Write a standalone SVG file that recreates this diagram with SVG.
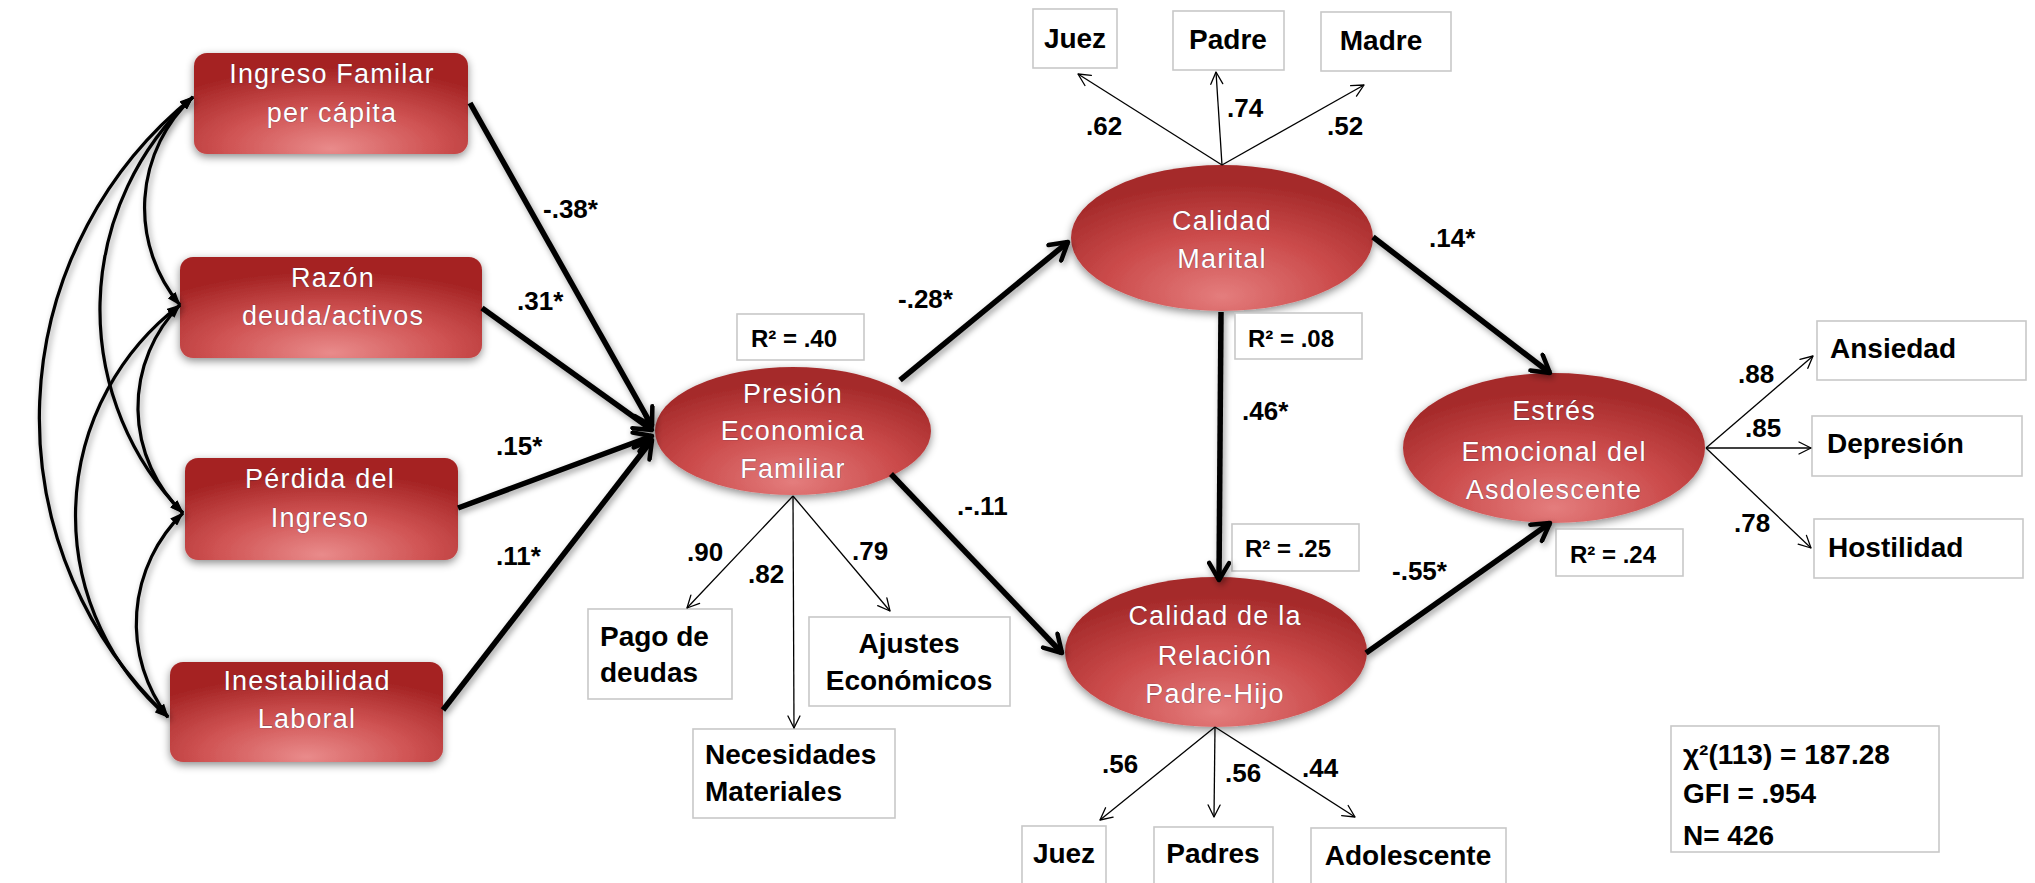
<svg xmlns="http://www.w3.org/2000/svg" width="2035" height="883" viewBox="0 0 2035 883">
<defs>
<radialGradient id="boxGrad" cx="0.5" cy="0.9" r="0.75" fx="0.5" fy="0.95">
<stop offset="0" stop-color="#e98b8b"/>
<stop offset="0.5" stop-color="#d05454"/>
<stop offset="1" stop-color="#a52424"/>
</radialGradient>
<radialGradient id="ellGrad" cx="0.5" cy="0.82" r="0.7" fx="0.5" fy="0.9">
<stop offset="0" stop-color="#e47d7d"/>
<stop offset="0.55" stop-color="#cb4b4b"/>
<stop offset="1" stop-color="#a52a2a"/>
</radialGradient>
<filter id="shadow" x="-20%" y="-20%" width="140%" height="150%">
<feDropShadow dx="0" dy="3" stdDeviation="4" flood-color="#000" flood-opacity="0.45"/>
</filter>
<filter id="lineShadow" x="-10%" y="-10%" width="120%" height="120%">
<feDropShadow dx="2" dy="3" stdDeviation="3" flood-color="#000" flood-opacity="0.4"/>
</filter>
<marker id="arrowThick" markerUnits="userSpaceOnUse" viewBox="0 0 24 24" markerWidth="24" markerHeight="24" refX="21" refY="12" orient="auto">
<path d="M4,2 L21,12 L4,22" fill="none" stroke="#000" stroke-width="4.5" stroke-linecap="round" stroke-linejoin="round"/>
</marker>
<marker id="arrowThin" markerUnits="userSpaceOnUse" viewBox="0 0 16 16" markerWidth="16" markerHeight="16" refX="14" refY="8" orient="auto">
<path d="M2,2 L14,8 L2,14" fill="none" stroke="#000" stroke-width="1.3" stroke-linecap="round" stroke-linejoin="round"/>
</marker>
<marker id="arrowFill" markerUnits="userSpaceOnUse" viewBox="0 0 14 10" markerWidth="14" markerHeight="10" refX="13" refY="5" orient="auto-start-reverse">
<path d="M0,0 L14,5 L0,10 z" fill="#000"/>
</marker>
</defs>
<style>
.node{fill:url(#boxGrad);filter:url(#shadow);}
.lat{fill:url(#ellGrad);filter:url(#shadow);}
.wt{font-family:"Liberation Sans",Arial,sans-serif;font-size:27px;fill:#fff;letter-spacing:1.2px;text-anchor:middle;stroke:#2a2a50;stroke-width:0.7px;stroke-opacity:0.55;paint-order:stroke;}
.ind{fill:#fff;stroke:#c8c8c8;stroke-width:1.6;}
.bt{font-family:"Liberation Sans",Arial,sans-serif;font-size:28px;font-weight:bold;fill:#000;}
.lb{font-family:"Liberation Sans",Arial,sans-serif;font-size:26px;font-weight:bold;fill:#000;}
.r2{font-family:"Liberation Sans",Arial,sans-serif;font-size:24px;font-weight:bold;fill:#000;}
.fit{font-family:"Liberation Sans",Arial,sans-serif;font-size:28px;font-weight:bold;fill:#000;}
.mid{text-anchor:middle;}
.thick{fill:none;stroke:#000;stroke-width:5.5;marker-end:url(#arrowThick);}
.thin{fill:none;stroke:#000;stroke-width:1.3;marker-end:url(#arrowThin);}
.curve{fill:none;stroke:#000;stroke-width:3.2;marker-start:url(#arrowFill);marker-end:url(#arrowFill);}
</style>
<rect x="0" y="0" width="2035" height="883" fill="#fff"/>

<!-- exogenous boxes -->
<g id="node-ingreso">
<rect class="node" x="194" y="53" width="274" height="101" rx="13"/>
<text class="wt" x="332" y="83">Ingreso Familar</text>
<text class="wt" x="332" y="122">per cápita</text>
</g>
<g id="node-razon">
<rect class="node" x="180" y="257" width="302" height="101" rx="13"/>
<text class="wt" x="333" y="287">Razón</text>
<text class="wt" x="333" y="325">deuda/activos</text>
</g>
<g id="node-perdida">
<rect class="node" x="185" y="458" width="273" height="102" rx="13"/>
<text class="wt" x="320" y="488">Pérdida del</text>
<text class="wt" x="320" y="527">Ingreso</text>
</g>
<g id="node-inestabilidad">
<rect class="node" x="170" y="662" width="273" height="100" rx="13"/>
<text class="wt" x="307" y="690">Inestabilidad</text>
<text class="wt" x="307" y="728">Laboral</text>
</g>

<!-- latent ellipses -->
<g id="node-presion">
<ellipse class="lat" cx="793" cy="431" rx="138" ry="64"/>
<text class="wt" x="793" y="403">Presión</text>
<text class="wt" x="793" y="440">Economica</text>
<text class="wt" x="793" y="478">Familiar</text>
</g>
<g id="node-marital">
<ellipse class="lat" cx="1222" cy="238" rx="151" ry="73"/>
<text class="wt" x="1222" y="230">Calidad</text>
<text class="wt" x="1222" y="268">Marital</text>
</g>
<g id="node-relacion">
<ellipse class="lat" cx="1216" cy="652" rx="151" ry="75"/>
<text class="wt" x="1215" y="625">Calidad de la</text>
<text class="wt" x="1215" y="665">Relación</text>
<text class="wt" x="1215" y="703">Padre-Hijo</text>
</g>
<g id="node-estres">
<ellipse class="lat" cx="1554" cy="448" rx="151" ry="75"/>
<text class="wt" x="1554" y="420">Estrés</text>
<text class="wt" x="1554" y="461">Emocional del</text>
<text class="wt" x="1554" y="499">Asdolescente</text>
</g>

<!-- R squared boxes -->
<g id="r2-presion">
<rect class="ind" x="737" y="314" width="127" height="46"/>
<text class="r2" x="751" y="347">R² = .40</text>
</g>
<g id="r2-marital">
<rect class="ind" x="1235" y="313" width="127" height="46"/>
<text class="r2" x="1248" y="347">R² = .08</text>
</g>
<g id="r2-relacion">
<rect class="ind" x="1232" y="524" width="127" height="47"/>
<text class="r2" x="1245" y="557">R² = .25</text>
</g>
<g id="r2-estres">
<rect class="ind" x="1556" y="529" width="127" height="47"/>
<text class="r2" x="1570" y="563">R² = .24</text>
</g>

<!-- indicator boxes -->
<g id="ind-pago">
<rect class="ind" x="588" y="609" width="144" height="90"/>
<text class="bt" x="600" y="646">Pago de</text>
<text class="bt" x="600" y="682">deudas</text>
</g>
<g id="ind-necesidades">
<rect class="ind" x="693" y="729" width="202" height="89"/>
<text class="bt" x="705" y="764">Necesidades</text>
<text class="bt" x="705" y="801">Materiales</text>
</g>
<g id="ind-ajustes">
<rect class="ind" x="809" y="617" width="201" height="89"/>
<text class="bt mid" x="909" y="653">Ajustes</text>
<text class="bt mid" x="909" y="690">Económicos</text>
</g>
<g id="ind-juez-m">
<rect class="ind" x="1033" y="9" width="84" height="59"/>
<text class="bt mid" x="1075" y="48">Juez</text>
</g>
<g id="ind-padre">
<rect class="ind" x="1173" y="11" width="111" height="59"/>
<text class="bt mid" x="1228" y="49">Padre</text>
</g>
<g id="ind-madre">
<rect class="ind" x="1321" y="12" width="130" height="59"/>
<text class="bt mid" x="1381" y="50">Madre</text>
</g>
<g id="ind-juez-r">
<rect class="ind" x="1022" y="826" width="84" height="70"/>
<text class="bt mid" x="1064" y="863">Juez</text>
</g>
<g id="ind-padres">
<rect class="ind" x="1154" y="827" width="119" height="70"/>
<text class="bt mid" x="1213" y="863">Padres</text>
</g>
<g id="ind-adolescente">
<rect class="ind" x="1311" y="828" width="195" height="70"/>
<text class="bt mid" x="1408" y="865">Adolescente</text>
</g>
<g id="ind-ansiedad">
<rect class="ind" x="1817" y="321" width="209" height="59"/>
<text class="bt" x="1830" y="358">Ansiedad</text>
</g>
<g id="ind-depresion">
<rect class="ind" x="1812" y="416" width="210" height="60"/>
<text class="bt" x="1827" y="453">Depresión</text>
</g>
<g id="ind-hostilidad">
<rect class="ind" x="1814" y="519" width="209" height="59"/>
<text class="bt" x="1828" y="557">Hostilidad</text>
</g>

<!-- fit statistics -->
<g id="fit-stats">
<rect class="ind" x="1671" y="726" width="268" height="126"/>
<text class="fit" x="1683" y="764">χ²(113) = 187.28</text>
<text class="fit" x="1683" y="803">GFI = .954</text>
<text class="fit" x="1683" y="845">N= 426</text>
</g>

<!-- connectors -->
<g id="connectors">
<g id="covariances" filter="url(#lineShadow)">
<path class="curve" d="M193,97 A412,412 0 0 0 168,717"/>
<path class="curve" d="M193,97 A290,290 0 0 0 183,513"/>
<path class="curve" d="M193,97 A151,151 0 0 0 180,305"/>
<path class="curve" d="M180,305 A265,265 0 0 0 168,717"/>
<path class="curve" d="M180,305 A146,146 0 0 0 183,513"/>
<path class="curve" d="M183,513 A154,154 0 0 0 168,717"/>
</g>
<g id="paths" filter="url(#lineShadow)">
<path class="thick" d="M470,103 L652,426"/>
<path class="thick" d="M482,308 L652,430"/>
<path class="thick" d="M458,508 L652,436"/>
<path class="thick" d="M443,710 L652,440"/>
<path class="thick" d="M900,380 L1068,242"/>
<path class="thick" d="M891,474 L1062,653"/>
<path class="thick" d="M1221,312 L1219,580"/>
<path class="thick" d="M1373,237 L1550,373"/>
<path class="thick" d="M1366,653 L1550,523"/>
</g>
<g id="loadings">
<path class="thin" d="M793,496 L687,608"/>
<path class="thin" d="M793,496 L794,728"/>
<path class="thin" d="M793,496 L890,611"/>
<path class="thin" d="M1222,165 L1078,74"/>
<path class="thin" d="M1222,165 L1216,72"/>
<path class="thin" d="M1222,165 L1364,85"/>
<path class="thin" d="M1215,727 L1100,820"/>
<path class="thin" d="M1215,727 L1214,817"/>
<path class="thin" d="M1215,727 L1355,817"/>
<path class="thin" d="M1706,448 L1813,356"/>
<path class="thin" d="M1706,448 L1811,448"/>
<path class="thin" d="M1706,448 L1811,548"/>
</g>
<g id="labels">
<text class="lb" x="543" y="218">-.38*</text>
<text class="lb" x="517" y="310">.31*</text>
<text class="lb" x="496" y="455">.15*</text>
<text class="lb" x="496" y="565">.11*</text>
<text class="lb" x="898" y="308">-.28*</text>
<text class="lb" x="957" y="515">.-.11</text>
<text class="lb" x="687" y="561">.90</text>
<text class="lb" x="748" y="583">.82</text>
<text class="lb" x="852" y="560">.79</text>
<text class="lb" x="1086" y="135">.62</text>
<text class="lb" x="1227" y="117">.74</text>
<text class="lb" x="1327" y="135">.52</text>
<text class="lb" x="1429" y="247">.14*</text>
<text class="lb" x="1242" y="420">.46*</text>
<text class="lb" x="1392" y="580">-.55*</text>
<text class="lb" x="1102" y="773">.56</text>
<text class="lb" x="1225" y="782">.56</text>
<text class="lb" x="1302" y="777">.44</text>
<text class="lb" x="1738" y="383">.88</text>
<text class="lb" x="1745" y="437">.85</text>
<text class="lb" x="1734" y="532">.78</text>
</g>
</g>
</svg>
